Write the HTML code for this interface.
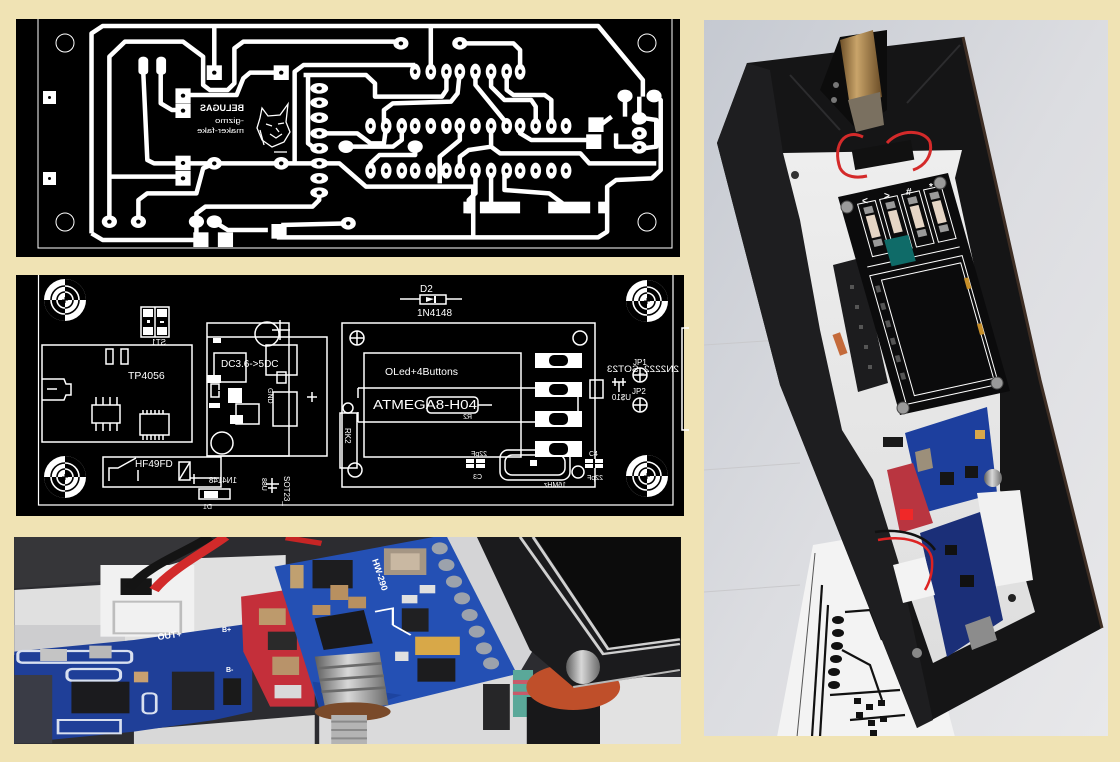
<!DOCTYPE html>
<html><head><meta charset="utf-8">
<style>
html,body{margin:0;padding:0;background:#f0e3b4;}
svg{display:block}
.t path{vector-effect:non-scaling-stroke}
.nb{vector-effect:non-scaling-stroke}
text{font-family:"Liberation Sans",sans-serif}
</style></head><body>
<svg width="1120" height="762" viewBox="0 0 1120 762" xmlns="http://www.w3.org/2000/svg">
<defs>
<g id="mh">
<circle r="21" fill="#fff"/>
<path d="M0,0 L21,0 A21,21 0 0 0 0,-21 Z" fill="#000"/>
<path d="M0,0 L-21,0 A21,21 0 0 0 0,21 Z" fill="#000"/>
<path d="M8,0 A8,8 0 0 0 0,-8 M14,0 A14,14 0 0 0 0,-14 M-8,0 A8,8 0 0 0 0,8 M-14,0 A14,14 0 0 0 0,14" stroke="#fff" stroke-width="1.6" fill="none"/>
<path d="M0,-8 A8,8 0 0 0 -8,0 M0,-14 A14,14 0 0 0 -14,0 M0,8 A8,8 0 0 0 8,0 M0,14 A14,14 0 0 0 14,0" stroke="#000" stroke-width="1.6" fill="none"/>
<path d="M-3,0H3M0,-3V3" stroke="#000" stroke-width="1"/>
</g>
<clipPath id="cb"><rect x="14" y="537" width="667" height="207"/></clipPath>
<clipPath id="cr"><rect x="704" y="20" width="404" height="716"/></clipPath>
<linearGradient id="bg" x1="0" y1="0" x2="1" y2="1">
<stop offset="0" stop-color="#c5c9d1"/><stop offset="0.5" stop-color="#dcdde1"/><stop offset="1" stop-color="#e8e8ea"/></linearGradient>
<linearGradient id="nut" x1="0" y1="0" x2="1" y2="0">
<stop offset="0" stop-color="#5e5e5e"/><stop offset="0.45" stop-color="#d8d8d8"/><stop offset="1" stop-color="#6a6a6a"/></linearGradient>
<linearGradient id="brass" x1="0" y1="0" x2="1" y2="0">
<stop offset="0" stop-color="#6e5028"/><stop offset="0.4" stop-color="#c9a46a"/><stop offset="1" stop-color="#6a4c26"/></linearGradient>
<linearGradient id="floor" x1="0" y1="0" x2="0" y2="1">
<stop offset="0" stop-color="#eeeeee"/><stop offset="1" stop-color="#dedede"/></linearGradient>
</defs>
<rect width="1120" height="762" fill="#f0e3b4"/>

<!-- ============ TOP PCB PANEL ============ -->
<rect x="16" y="19" width="664" height="238" fill="#000"/>
<path d="M38,19V248H672V19" stroke="#fff" stroke-width="1" fill="none"/>
<g fill="none" stroke="#fff" stroke-width="1">
<circle cx="65" cy="43" r="9"/><circle cx="647" cy="43" r="9"/>
<circle cx="65" cy="222" r="9"/><circle cx="647" cy="222" r="9"/>
</g>
<rect x="43" y="91" width="13" height="13" fill="#fff"/><circle cx="49.5" cy="97.5" r="1.5" fill="#000"/>
<rect x="43" y="172" width="13" height="13" fill="#fff"/><circle cx="49.5" cy="178.5" r="1.5" fill="#000"/>

<g class="t" transform="scale(0.44643,0.33333)">
<g fill="none" stroke="#fff" stroke-width="4.5" stroke-linejoin="round">
<path d="M205,700 L205,100 L230,78 L1340,78 L1440,240 L1440,290"/>
<path d="M480,78 L480,215"/>
<path d="M965,78 L965,210"/>
<path d="M245,660 L245,170 L280,125 L410,125 L455,170 L455,255 L470,270 L510,270 L525,250 L525,145 L545,125 L898,125"/>
<path d="M360,190 L360,310 L385,330 L410,330"/>
<path d="M320,190 L330,480 L345,490 L410,490"/>
<path d="M410,285 L530,285 L545,235 L560,218 L630,218"/>
<path d="M245,530 L410,530"/>
<path d="M410,490 L715,490"/>
<path d="M660,490 L660,215 L680,195 L930,195"/>
<path d="M690,230 L690,430 L705,445"/>
<path d="M715,400 L800,400 L830,430 L860,430 L865,380"/>
<path d="M680,225 L820,225 L840,250 L840,290 L990,290 L1000,270 L1000,215"/>
<path d="M860,375 L860,330 L880,310 L1010,305 L1025,280 L1030,215"/>
<path d="M775,440 L880,440 L900,420 L900,375"/>
<path d="M930,440 L930,465 L850,465 L830,490 L830,510"/>
<path d="M715,490 L760,490 L820,560 L1060,560 L1060,715"/>
<path d="M715,578 L715,600 L700,620 L460,620 L440,640 L440,700 L450,718"/>
<path d="M310,660 L310,600 L330,580 L440,580 L455,505 L480,490"/>
<path d="M480,665 L510,690 L600,690"/>
<path d="M630,675 L780,670"/>
<path d="M620,712 L1340,712 L1360,695 L1360,560 L1380,540 L1460,535 L1480,510 L1480,300 L1465,285"/>
<path d="M205,700 L230,720 L440,720"/>
<path d="M1030,130 L1150,130 L1165,150 L1165,210"/>
<path d="M1065,215 L1065,255 L1135,370"/>
<path d="M1100,215 L1100,260 L1130,300 L1190,300 L1200,320 L1200,370"/>
<path d="M1135,215 L1135,270 L1150,285 L1220,285 L1235,300 L1235,370"/>
<path d="M1165,375 L1165,400 L1190,420 L1320,420"/>
<path d="M1340,380 L1370,350"/>
<path d="M1100,375 L1100,440 L1050,450 L1030,470 L1030,510"/>
<path d="M1100,440 L1120,460 L1300,460 L1320,490 L1470,490"/>
<path d="M1030,375 L1030,420 L985,470 L985,550"/>
<path d="M1065,510 L1065,580 L1050,600 L1050,640"/>
<path d="M1100,510 L1100,610"/>
<path d="M1130,510 L1130,570 L1230,580 L1260,610"/>
<path d="M1380,400 L1380,440 L1430,440"/>
<path d="M1400,290 L1400,350"/>
<path d="M1432,290 L1432,355"/>
<path d="M1445,355 L1470,360 L1470,440 L1440,445"/>
</g>
<g fill="#fff">
<ellipse cx="930" cy="215" rx="12" ry="24"/><ellipse cx="965" cy="215" rx="12" ry="24"/><ellipse cx="1000" cy="215" rx="12" ry="24"/><ellipse cx="1030" cy="215" rx="12" ry="24"/><ellipse cx="1065" cy="215" rx="12" ry="24"/><ellipse cx="1100" cy="215" rx="12" ry="24"/><ellipse cx="1135" cy="215" rx="12" ry="24"/><ellipse cx="1165" cy="215" rx="12" ry="24"/>
<ellipse cx="830" cy="378" rx="12" ry="24"/><ellipse cx="865" cy="378" rx="12" ry="24"/><ellipse cx="900" cy="378" rx="12" ry="24"/><ellipse cx="930" cy="378" rx="12" ry="24"/><ellipse cx="965" cy="378" rx="12" ry="24"/><ellipse cx="1000" cy="378" rx="12" ry="24"/><ellipse cx="1030" cy="378" rx="12" ry="24"/><ellipse cx="1065" cy="378" rx="12" ry="24"/><ellipse cx="1100" cy="378" rx="12" ry="24"/><ellipse cx="1135" cy="378" rx="12" ry="24"/><ellipse cx="1165" cy="378" rx="12" ry="24"/><ellipse cx="1200" cy="378" rx="12" ry="24"/><ellipse cx="1235" cy="378" rx="12" ry="24"/><ellipse cx="1268" cy="378" rx="12" ry="24"/>
<ellipse cx="830" cy="512" rx="12" ry="24"/><ellipse cx="865" cy="512" rx="12" ry="24"/><ellipse cx="900" cy="512" rx="12" ry="24"/><ellipse cx="930" cy="512" rx="12" ry="24"/><ellipse cx="965" cy="512" rx="12" ry="24"/><ellipse cx="1000" cy="512" rx="12" ry="24"/><ellipse cx="1030" cy="512" rx="12" ry="24"/><ellipse cx="1065" cy="512" rx="12" ry="24"/><ellipse cx="1100" cy="512" rx="12" ry="24"/><ellipse cx="1135" cy="512" rx="12" ry="24"/><ellipse cx="1165" cy="512" rx="12" ry="24"/><ellipse cx="1200" cy="512" rx="12" ry="24"/><ellipse cx="1235" cy="512" rx="12" ry="24"/><ellipse cx="1268" cy="512" rx="12" ry="24"/>
<ellipse cx="715" cy="265" rx="20" ry="16"/><ellipse cx="715" cy="308" rx="20" ry="16"/><ellipse cx="715" cy="353" rx="20" ry="16"/><ellipse cx="715" cy="400" rx="20" ry="16"/><ellipse cx="715" cy="445" rx="20" ry="16"/><ellipse cx="715" cy="490" rx="20" ry="16"/><ellipse cx="715" cy="535" rx="20" ry="16"/><ellipse cx="715" cy="578" rx="20" ry="16"/>
<ellipse cx="898" cy="130" rx="17" ry="19"/><ellipse cx="1030" cy="130" rx="17" ry="19"/><ellipse cx="245" cy="665" rx="17" ry="19"/><ellipse cx="310" cy="665" rx="17" ry="19"/><ellipse cx="440" cy="665" rx="17" ry="19"/><ellipse cx="480" cy="665" rx="17" ry="19"/><ellipse cx="780" cy="670" rx="17" ry="19"/><ellipse cx="775" cy="440" rx="17" ry="19"/><ellipse cx="930" cy="440" rx="17" ry="19"/><ellipse cx="480" cy="490" rx="17" ry="19"/><ellipse cx="630" cy="490" rx="17" ry="19"/><ellipse cx="1400" cy="288" rx="17" ry="19"/><ellipse cx="1465" cy="288" rx="17" ry="19"/><ellipse cx="1432" cy="355" rx="17" ry="19"/><ellipse cx="1432" cy="400" rx="17" ry="19"/><ellipse cx="1432" cy="442" rx="17" ry="19"/>
<rect x="310" y="170" width="22" height="55" rx="11"/><rect x="350" y="170" width="22" height="55" rx="11"/>
<rect x="463" y="196" width="34" height="44"/><rect x="613" y="196" width="34" height="44"/><rect x="393" y="265" width="34" height="44"/><rect x="393" y="310" width="34" height="44"/><rect x="393" y="467" width="34" height="44"/><rect x="393" y="513" width="34" height="44"/><rect x="433" y="697" width="34" height="44"/><rect x="488" y="697" width="34" height="44"/><rect x="608" y="672" width="34" height="44"/><rect x="1318" y="352" width="34" height="44"/><rect x="1313" y="403" width="34" height="44"/>
<rect x="1038" y="605" width="22" height="35"/><rect x="1075" y="605" width="90" height="35"/><rect x="1228" y="605" width="94" height="35"/><rect x="1340" y="605" width="16" height="35"/>
</g>
<g fill="#000">
<ellipse cx="930" cy="215" rx="4" ry="7"/><ellipse cx="965" cy="215" rx="4" ry="7"/><ellipse cx="1000" cy="215" rx="4" ry="7"/><ellipse cx="1030" cy="215" rx="4" ry="7"/><ellipse cx="1065" cy="215" rx="4" ry="7"/><ellipse cx="1100" cy="215" rx="4" ry="7"/><ellipse cx="1135" cy="215" rx="4" ry="7"/><ellipse cx="1165" cy="215" rx="4" ry="7"/>
<ellipse cx="830" cy="378" rx="4" ry="7"/><ellipse cx="865" cy="378" rx="4" ry="7"/><ellipse cx="900" cy="378" rx="4" ry="7"/><ellipse cx="930" cy="378" rx="4" ry="7"/><ellipse cx="965" cy="378" rx="4" ry="7"/><ellipse cx="1000" cy="378" rx="4" ry="7"/><ellipse cx="1030" cy="378" rx="4" ry="7"/><ellipse cx="1065" cy="378" rx="4" ry="7"/><ellipse cx="1100" cy="378" rx="4" ry="7"/><ellipse cx="1135" cy="378" rx="4" ry="7"/><ellipse cx="1165" cy="378" rx="4" ry="7"/><ellipse cx="1200" cy="378" rx="4" ry="7"/><ellipse cx="1235" cy="378" rx="4" ry="7"/><ellipse cx="1268" cy="378" rx="4" ry="7"/>
<ellipse cx="830" cy="512" rx="4" ry="7"/><ellipse cx="865" cy="512" rx="4" ry="7"/><ellipse cx="900" cy="512" rx="4" ry="7"/><ellipse cx="930" cy="512" rx="4" ry="7"/><ellipse cx="965" cy="512" rx="4" ry="7"/><ellipse cx="1000" cy="512" rx="4" ry="7"/><ellipse cx="1030" cy="512" rx="4" ry="7"/><ellipse cx="1065" cy="512" rx="4" ry="7"/><ellipse cx="1100" cy="512" rx="4" ry="7"/><ellipse cx="1135" cy="512" rx="4" ry="7"/><ellipse cx="1165" cy="512" rx="4" ry="7"/><ellipse cx="1200" cy="512" rx="4" ry="7"/><ellipse cx="1235" cy="512" rx="4" ry="7"/><ellipse cx="1268" cy="512" rx="4" ry="7"/>
<ellipse cx="715" cy="265" rx="6" ry="6"/><ellipse cx="715" cy="308" rx="6" ry="6"/><ellipse cx="715" cy="353" rx="6" ry="6"/><ellipse cx="715" cy="400" rx="6" ry="6"/><ellipse cx="715" cy="445" rx="6" ry="6"/><ellipse cx="715" cy="490" rx="6" ry="6"/><ellipse cx="715" cy="535" rx="6" ry="6"/><ellipse cx="715" cy="578" rx="6" ry="6"/>
<ellipse cx="898" cy="130" rx="5" ry="6"/><ellipse cx="1030" cy="130" rx="5" ry="6"/><ellipse cx="245" cy="665" rx="5" ry="6"/><ellipse cx="310" cy="665" rx="5" ry="6"/><ellipse cx="780" cy="670" rx="5" ry="6"/><ellipse cx="480" cy="490" rx="5" ry="6"/><ellipse cx="630" cy="490" rx="5" ry="6"/><ellipse cx="1432" cy="400" rx="5" ry="6"/><ellipse cx="1432" cy="442" rx="5" ry="6"/>
<ellipse cx="480" cy="218" rx="5" ry="6"/><ellipse cx="630" cy="218" rx="5" ry="6"/><ellipse cx="410" cy="287" rx="5" ry="6"/><ellipse cx="410" cy="332" rx="5" ry="6"/><ellipse cx="410" cy="489" rx="5" ry="6"/><ellipse cx="410" cy="535" rx="5" ry="6"/>
</g>
</g>
<g fill="#fff">
<text transform="translate(244,111) scale(-1,1)" font-size="9" font-weight="bold" textLength="44" lengthAdjust="spacingAndGlyphs">BELUGAS</text>
<text transform="translate(244,123) scale(-1,1)" font-size="7" textLength="29" lengthAdjust="spacingAndGlyphs">-gizmo</text>
<text transform="translate(244,133) scale(-1,1)" font-size="7" textLength="47" lengthAdjust="spacingAndGlyphs">maker-fake</text>
</g>
<g stroke="#fff" stroke-width="1.3" fill="none">
<path d="M262,108 L268,116 L280,115 L288,104 L286,122 L290,132 L284,142 L272,147 L262,140 L257,128 L260,118 Z"/>
<path d="M266,124 L272,126 M278,124 L284,123 M270,134 L276,138 L282,134 M260,130 L264,145 M276,128 L279,132"/>
<path d="M274,152 H287"/>
</g>

<!-- ============ MIDDLE SILKSCREEN PANEL ============ -->
<rect x="16" y="275" width="668" height="241" fill="#000"/>
<path d="M38.5,275V505H673V275" stroke="#fff" stroke-width="1.2" fill="none"/>
<path d="M689,328H682V430H689" stroke="#fff" stroke-width="1.5" fill="none"/>
<use href="#mh" x="65" y="300"/><use href="#mh" x="647" y="301"/>
<use href="#mh" x="65" y="477"/><use href="#mh" x="647" y="476"/>
<g fill="none" stroke="#fff" stroke-width="1.5">
<rect x="141" y="307" width="28" height="30"/><line x1="155" y1="307" x2="155" y2="337"/>
<rect x="42" y="345" width="150" height="97"/>
<rect x="106" y="349" width="7" height="15"/><rect x="121" y="349" width="7" height="15"/>
<path d="M42,379H64L66,384H71V395H66L64,400H42M47,389H57"/>
<rect x="92" y="405" width="28" height="18"/>
<path d="M96,397V405M103,397V405M110,397V405M117,397V405M96,423V431M103,423V431M110,423V431M117,423V431"/>
<rect x="140" y="414" width="29" height="21"/>
<path d="M143,410V414M147,410V414M151,410V414M155,410V414M159,410V414M163,410V414M143,435V440M147,435V440M151,435V440M155,435V440M159,435V440M163,435V440"/>
<rect x="207" y="323" width="82" height="133"/>
<path d="M207,337H327V456H207"/>
<circle cx="267" cy="334" r="12"/><path d="M280,320V340M272,330H290"/>
<circle cx="222" cy="443" r="11"/>
<rect x="214" y="353" width="32" height="29"/>
<rect x="211" y="384" width="8" height="13"/>
<rect x="236" y="404" width="23" height="20"/>
<rect x="266" y="345" width="31" height="30"/>
<rect x="277" y="372" width="9" height="11"/>
<rect x="273" y="392" width="24" height="34"/>
<path d="M307,397H317M312,392V402"/>
<rect x="103" y="457" width="118" height="30"/>
<path d="M109,481V468H118L136,458M138,481V470"/>
<rect x="179" y="462" width="11" height="18"/><path d="M179,480L190,462M190,478H219M194,474V484"/>
<rect x="199" y="489" width="31" height="10"/>
<path d="M266,484H279M272,478V493M268,488H277"/>
<path d="M400,299H420M446,299H462"/>
<rect x="420" y="295" width="26" height="9"/>
<rect x="342" y="323" width="253" height="164"/>
<rect x="364" y="353" width="157" height="104"/>
<circle cx="357" cy="338" r="7"/><path d="M350,338H364M357,331V345"/>
<circle cx="580" cy="338" r="7"/>
<path d="M358,388H535M358,422H535M358,388V398M358,412V422M578,390V416"/>
<rect x="340" y="413" width="17" height="55"/>
<circle cx="355" cy="470" r="7"/><circle cx="348" cy="408" r="5"/>
<rect x="427" y="397" width="51" height="16" rx="4"/>
<path d="M478,405H492"/>
<rect x="500" y="450" width="70" height="30" rx="8"/>
<rect x="505" y="455" width="60" height="20" rx="7"/>
<circle cx="578" cy="472" r="6"/>
<circle cx="640" cy="375" r="7"/><path d="M633,375H647M640,368V382"/>
<circle cx="640" cy="405" r="7"/><path d="M633,405H647M640,398V412"/>
<rect x="590" y="380" width="13" height="18"/>
<path d="M612,382H626M615,378V386M623,378V386M619,382V392"/>
</g>
<g fill="#fff">
<rect x="143" y="309" width="10" height="8"/><rect x="143" y="327" width="10" height="8"/>
<rect x="157" y="309" width="10" height="8"/><rect x="157" y="327" width="10" height="8"/>
<rect x="147" y="320" width="3" height="3"/><rect x="160" y="321" width="4" height="2"/>
<rect x="213" y="338" width="8" height="5"/><rect x="207" y="375" width="14" height="8"/><rect x="209" y="403" width="11" height="5"/>
<rect x="230" y="415" width="13" height="9"/>
<rect x="228" y="388" width="14" height="15"/>
<rect x="204" y="491" width="14" height="7"/>
<path d="M426,297L434,299L426,302Z"/><rect x="434" y="296" width="2" height="7"/>
<rect x="535" y="353" width="47" height="15"/><rect x="535" y="382" width="47" height="15"/>
<rect x="535" y="411" width="47" height="16"/><rect x="535" y="441" width="47" height="16"/>
<rect x="466" y="459" width="19" height="9"/><rect x="585" y="459" width="18" height="9"/>
<rect x="530" y="460" width="7" height="6"/>
</g>
<g fill="#000">
<rect x="549" y="355" width="19" height="11" rx="5"/><rect x="549" y="384" width="19" height="11" rx="5"/>
<rect x="549" y="413" width="19" height="12" rx="5"/><rect x="549" y="443" width="19" height="12" rx="5"/>
<rect x="474" y="459" width="2" height="9"/><rect x="466" y="463" width="19" height="1"/>
<rect x="593" y="459" width="2" height="9"/><rect x="585" y="463" width="18" height="1"/>
<rect x="215" y="390" width="10" height="1"/>
</g>
<g fill="#fff">
<text x="128" y="379" font-size="10.5">TP4056</text>
<text x="221" y="367" font-size="10">DC3.6-&gt;5DC</text>
<text x="135" y="467" font-size="10">HF49FD</text>
<text x="420" y="292" font-size="10">D2</text>
<text x="417" y="316" font-size="10">1N4148</text>
<text x="385" y="375" font-size="10.5" textLength="73" lengthAdjust="spacingAndGlyphs">OLed+4Buttons</text>
<text x="373" y="409" font-size="13" textLength="104" lengthAdjust="spacingAndGlyphs">ATMEGA8-H04</text>
<text x="633" y="365" font-size="8">JP1</text>
<text x="632" y="394" font-size="8">JP2</text>
<text x="589" y="456" font-size="7">C4</text>
<text transform="translate(679,372) scale(-1,1)" font-size="9" textLength="72" lengthAdjust="spacingAndGlyphs">2N2222_SOT23</text>
<text transform="translate(631,400) scale(-1,1)" font-size="8">U$10</text>
<text transform="translate(166,345) scale(-1,1)" font-size="8">ST1</text>
<text transform="translate(237,483) scale(-1,1)" font-size="8">1N4148</text>
<text transform="translate(212,509) scale(-1,1)" font-size="7">D1</text>
<text transform="translate(487,456) scale(-1,1)" font-size="7">22pF</text>
<text transform="translate(482,479) scale(-1,1)" font-size="7">C3</text>
<text transform="translate(603,480) scale(-1,1)" font-size="7">22pF</text>
<text transform="translate(566,487) scale(-1,1)" font-size="7">16MHz</text>
<text transform="translate(472,419) scale(-1,1)" font-size="7">R2</text>
<text transform="translate(262,478) rotate(90)" font-size="7">88U</text>
<text transform="translate(284,476) rotate(90)" font-size="8">SOT23_</text>
<text transform="translate(345,428) rotate(90)" font-size="8">RK2</text>
<text transform="translate(268,388) rotate(90)" font-size="7">GND</text>
</g>

<!-- ============ BOTTOM PHOTO ============ -->
<g clip-path="url(#cb)">
<g transform="translate(0,525) scale(0.44643,0.33333)">
<rect x="0" y="0" width="1600" height="720" fill="#2c2c30"/>
<polygon points="32,35 450,35 380,110 220,170 32,190" fill="#363639"/>
<polygon points="32,195 225,180 430,100 640,90 640,330 32,390" fill="#e0e0e0"/>
<polygon points="32,300 280,300 280,360 32,390" fill="#cdcdcf"/>
<rect x="225" y="120" width="210" height="215" fill="#f1f1f1"/>
<rect x="255" y="230" width="150" height="95" fill="none" stroke="#bdbdbd" stroke-width="6"/>
<rect x="270" y="160" width="70" height="50" fill="#151515"/>
<path d="M290,190 C330,120 420,80 470,35" stroke="#141414" stroke-width="24" fill="none"/>
<path d="M345,195 C385,130 460,80 505,35" stroke="#d22a2a" stroke-width="24" fill="none"/>
<path d="M640,38 L720,55" stroke="#c62525" stroke-width="16"/>
<!-- floor wedge bottom -->
<polygon points="300,615 705,570 705,660 300,660" fill="#d8d8d8"/>
<!-- left blue board -->
<polygon points="32,380 300,345 553,297 565,330 565,560 480,585 300,620 32,655" fill="#1f3f98"/>
<rect x="40" y="378" width="255" height="35" rx="10" fill="none" stroke="#d8e0f0" stroke-width="7"/>
<rect x="90" y="372" width="60" height="36" fill="#c4c4c4"/><rect x="200" y="362" width="50" height="38" fill="#b8b8b8"/>
<rect x="150" y="432" width="120" height="35" rx="12" fill="none" stroke="#d8e0f0" stroke-width="7"/>
<rect x="160" y="470" width="130" height="95" fill="#1b1b1e"/>
<rect x="385" y="440" width="95" height="115" fill="#232326"/>
<rect x="300" y="440" width="32" height="32" fill="#c9a070"/>
<rect x="320" y="505" width="30" height="60" rx="10" fill="none" stroke="#d8e0f0" stroke-width="6"/>
<rect x="32" y="450" width="85" height="205" fill="#3a3c46"/>
<rect x="130" y="585" width="140" height="40" fill="none" stroke="#d8e0f0" stroke-width="6"/>
<rect x="500" y="460" width="40" height="80" fill="#1a1a1a"/>
<!-- red board -->
<polygon points="540,215 640,195 705,370 705,545 605,545 545,380" fill="#c42f3a"/>
<rect x="580" y="250" width="60" height="50" fill="#bd9a6c"/>
<rect x="600" y="320" width="65" height="55" fill="#2a2a2a"/>
<rect x="610" y="395" width="60" height="55" fill="#b8936a"/>
<rect x="615" y="480" width="60" height="40" fill="#d9d9d9"/>
<!-- white band + lower floor right -->
<polygon points="985,35 1072,35 1192,380 1160,452" fill="#d4d4d6"/>
<polygon points="715,560 1158,447 1190,470 1190,660 715,660" fill="#dadadb"/>
<!-- HW-290 board -->
<polygon points="615,125 975,35 1001,35 1158,447 762,576 715,550" fill="#2450b4"/>
<polygon points="700,470 900,510 762,576 715,550" fill="#1d44a0"/>
<rect x="700" y="105" width="90" height="85" fill="#1d1d1f"/>
<polygon points="705,280 815,255 835,355 725,375" fill="#19191b"/>
<rect x="860" y="70" width="95" height="80" fill="#a59684"/><rect x="875" y="85" width="65" height="50" fill="#c9b8a2"/>
<rect x="930" y="335" width="100" height="55" fill="#d8a848"/>
<rect x="935" y="400" width="85" height="70" fill="#1c1c1e"/>
<rect x="900" y="250" width="60" height="70" fill="#202022"/>
<rect x="650" y="120" width="30" height="70" fill="#c0a070"/><rect x="740" y="180" width="40" height="45" fill="#b89060"/>
<rect x="780" y="215" width="40" height="35" fill="#b89060"/><rect x="700" y="240" width="40" height="30" fill="#b89060"/>
<rect x="885" y="380" width="30" height="28" fill="#e0e0e0"/><rect x="900" y="210" width="35" height="25" fill="#e0e0e0"/>
<rect x="940" y="180" width="35" height="25" fill="#e0e0e0"/>
<g fill="#9ca2ac"><circle cx="985" cy="70" r="18"/><circle cx="1000" cy="120" r="18"/><circle cx="1017" cy="170" r="18"/><circle cx="1035" cy="220" r="18"/><circle cx="1052" cy="270" r="18"/><circle cx="1068" cy="320" r="18"/><circle cx="1084" cy="370" r="18"/><circle cx="1100" cy="415" r="18"/></g>
<path d="M880,300 L880,250 L840,260 M880,300 L920,330" stroke="#fff" stroke-width="5" fill="none"/>
<rect x="1082" y="477" width="60" height="138" fill="#262628"/>
<rect x="1149" y="435" width="45" height="141" fill="#5aa899"/>
<rect x="1149" y="465" width="45" height="12" fill="#c85a6a"/><rect x="1149" y="500" width="45" height="10" fill="#c85a6a"/>
<!-- bolt -->
<polygon points="705,395 850,380 870,540 730,560" fill="url(#nut)"/>
<path d="M712,430 L855,415 M716,465 L860,452 M720,500 L864,488" stroke="#6a6a6a" stroke-width="8"/>
<ellipse cx="790" cy="560" rx="85" ry="28" fill="#7a4a2a"/>
<rect x="742" y="570" width="80" height="90" fill="#b4b4b4"/>
<path d="M742,590H822M742,615H822M742,640H822" stroke="#8a8a8a" stroke-width="6"/>
<!-- right side: floor, cylinder, washer, OLED -->
<rect x="1344" y="456" width="185" height="205" fill="#e2e2e2"/>
<rect x="1180" y="516" width="164" height="145" fill="#18181a"/>
<ellipse cx="1284" cy="486" rx="105" ry="69" fill="#bf4f2a"/>
<polygon points="1068,35 1525,35 1525,440 1284,486 1187,375" fill="#1b1b1d"/>
<polygon points="1200,35 1525,35 1525,340 1365,370" fill="#0c0c0c"/>
<path d="M1165,36 L1351,387 L1523,357 M1194,36 L1362,372 L1523,343" stroke="#d0d0d0" stroke-width="7" fill="none"/>
<path d="M1284,486 L1523,435" stroke="#b8b8b8" stroke-width="6"/>
<ellipse cx="1306" cy="426" rx="38" ry="51" fill="url(#nut)"/>
</g>
<g fill="#fff" font-weight="bold">
<text x="158" y="640" font-size="9" transform="rotate(-8 158 640)">OUT+</text>
<text x="222" y="632" font-size="7">B+</text>
<text x="226" y="672" font-size="7">B-</text>
<text x="372" y="560" font-size="9" transform="rotate(72 372 560)">HW-290</text>
</g>
</g>

<!-- ============ RIGHT PHOTO ============ -->
<g clip-path="url(#cr)">
<rect x="704" y="20" width="404" height="716" fill="url(#bg)"/>
<path d="M704,345 L780,340 M704,470 L800,463 M704,592 L800,585" stroke="#c9c9cc" stroke-width="1" fill="none"/>
<polygon points="813,545 900,530 955,737 777,737" fill="#f3f3f3"/>
<path d="M815,553 L797,737" stroke="#555" stroke-width="1"/>
<g stroke="#111" stroke-width="2.2" fill="none">
<path d="M822,585 L812,737"/><path d="M828,605 L820,737"/>
<path d="M845,612 L870,610 L882,640"/><path d="M842,650 L870,665 L882,700"/>
<path d="M830,695 L900,690"/><path d="M850,720 L905,715"/>
</g>
<g fill="#111">
<ellipse cx="838" cy="620" rx="6" ry="4"/><ellipse cx="838" cy="633" rx="6" ry="4"/><ellipse cx="837" cy="646" rx="6" ry="4"/><ellipse cx="836" cy="659" rx="6" ry="4"/><ellipse cx="834" cy="672" rx="6" ry="4"/><ellipse cx="834" cy="685" rx="6" ry="4"/>
<rect x="854" y="698" width="7" height="6"/><rect x="866" y="704" width="7" height="6"/><rect x="878" y="700" width="7" height="6"/><rect x="856" y="712" width="7" height="6"/><rect x="868" y="720" width="7" height="6"/><rect x="880" y="716" width="7" height="6"/><rect x="870" y="730" width="7" height="6"/>
</g>
<!-- box -->
<polygon points="747,63 963,37 1040,380 1102,628 917,728 780,385 717,143" fill="#151516"/>
<polygon points="747,63 717,143 780,385 917,728 933,720 900,567 873,480 842,430 820,330 800,220 783,153 770,70" fill="#1e1e20"/>
<path d="M963,37 L1040,380 L1102,628" stroke="#3e2e24" stroke-width="3" fill="none"/>
<path d="M907,103 L960,45 M790,75 L840,130" stroke="#2c2c2e" stroke-width="2"/>
<polygon points="783,153 962,150 955,178 1000,385 1000,490 1035,612 933,663 900,567 873,480 842,430 820,330 800,220" fill="url(#floor)"/>
<circle cx="795" cy="175" r="4" fill="#333"/>
<!-- laser module -->
<polygon points="820,90 840,37 887,30 887,110 857,130" fill="#0c0c0c"/>
<polygon points="840,40 873,30 882,97 850,107" fill="url(#brass)"/>
<polygon points="848,100 880,92 884,125 856,132" fill="#7a7060"/>
<circle cx="836" cy="85" r="3" fill="#777"/><circle cx="834" cy="100" r="3" fill="#777"/>
<rect x="853" y="145" width="60" height="20" fill="#111" transform="rotate(-10 883 155)"/>
<path d="M863,137 C845,128 832,145 840,168 C845,178 858,178 867,176" stroke="#d42a2a" stroke-width="3" fill="none"/>
<path d="M887,143 C900,128 925,130 930,142 C933,155 925,166 913,170" stroke="#d42a2a" stroke-width="3" fill="none"/>
<!-- header -->
<polygon points="833,265 860,258 888,383 858,392" fill="#1c1c1e"/>
<g fill="#555"><rect x="850" y="285" width="4" height="4"/><rect x="855" y="305" width="4" height="4"/><rect x="859" y="325" width="4" height="4"/><rect x="864" y="345" width="4" height="4"/><rect x="868" y="365" width="4" height="4"/></g>
<rect x="836" y="333" width="8" height="22" fill="#c46a3a" transform="rotate(-20 840 344)"/>
<!-- OLED board -->
<g transform="matrix(1.10,-0.24,0.62,2.18,838,197)">
<rect x="0" y="0" width="100" height="100" fill="#0b0b0c"/>
<g fill="#e5d5c5"><rect x="19" y="11" width="8" height="10"/><rect x="39" y="11" width="8" height="10"/><rect x="59" y="11" width="8" height="10"/><rect x="79" y="11" width="8" height="10"/></g>
<g fill="#9a9a9a"><rect x="19" y="7" width="8" height="3"/><rect x="39" y="7" width="8" height="3"/><rect x="59" y="7" width="8" height="3"/><rect x="79" y="7" width="8" height="3"/><rect x="19" y="22" width="8" height="3"/><rect x="59" y="22" width="8" height="3"/><rect x="79" y="22" width="8" height="3"/></g>
<g fill="none" stroke="#fff" stroke-width="1">
<rect x="15" y="5" width="16" height="24" class="nb"/><rect x="35" y="5" width="16" height="24" class="nb"/><rect x="55" y="5" width="16" height="24" class="nb"/><rect x="75" y="5" width="16" height="24" class="nb"/>
<rect x="8" y="37" width="84" height="59" class="nb"/><rect x="17" y="40" width="72" height="53" class="nb"/>
<path d="M8,33 H92" class="nb"/>
</g>
<rect x="29" y="23" width="22" height="12" fill="#0f6b68"/>
<g fill="#555"><rect x="10" y="42" width="4" height="3"/><rect x="10" y="50" width="4" height="3"/><rect x="10" y="58" width="4" height="3"/><rect x="10" y="66" width="4" height="3"/><rect x="10" y="74" width="4" height="3"/><rect x="10" y="82" width="4" height="3"/></g>
<rect x="88" y="47" width="4" height="5" fill="#c8902a"/><rect x="88" y="68" width="4" height="5" fill="#c8902a"/>
</g>
<g fill="#fff" font-size="10" font-weight="bold">
<text x="862" y="204">&lt;</text><text x="884" y="199">&gt;</text><text x="906" y="195">#</text><text x="929" y="190">*</text>
</g>
<g fill="#9a9a9a" stroke="#4a4a4a" stroke-width="1">
<circle cx="847" cy="207" r="6"/><circle cx="940" cy="183" r="6"/><circle cx="997" cy="383" r="6"/><circle cx="903" cy="408" r="6"/>
</g>
<!-- modules -->
<rect x="883" y="437" width="20" height="10" fill="#1a1a1a"/>
<polygon points="905,433 987,407 997,493 923,513" fill="#1d3f9e"/>
<polygon points="915,452 930,448 933,468 918,472" fill="#9c8f7a"/>
<rect x="975" y="430" width="10" height="9" fill="#d9a84a"/>
<rect x="940" y="472" width="14" height="13" fill="#151515"/><rect x="965" y="466" width="13" height="12" fill="#151515"/>
<circle cx="993" cy="478" r="9" fill="url(#nut)"/>
<polygon points="887,470 913,463 933,523 900,533" fill="#b93540"/>
<rect x="900" y="509" width="13" height="11" fill="#f02828"/>
<polygon points="977,493 1020,490 1033,580 993,587" fill="#f1f1f1"/>
<polygon points="920,533 980,512 1003,620 947,657" fill="#1b2f78"/>
<rect x="945" y="545" width="12" height="10" fill="#111"/><rect x="960" y="575" width="14" height="12" fill="#111"/>
<polygon points="965,625 990,616 997,640 972,650" fill="#8c8c8c"/>
<polygon points="893,565 925,557 935,595 903,603" fill="#f3f3f3"/>
<path d="M875,532 C900,528 925,535 935,550" stroke="#111" stroke-width="2.5" fill="none"/>
<path d="M878,540 C900,535 930,540 932,560 C933,575 928,585 925,590" stroke="#d22" stroke-width="2.5" fill="none"/>
<circle cx="917" cy="653" r="5" fill="#888"/>
<circle cx="1012" cy="598" r="4" fill="#222"/>
</g>
</svg>
</body></html>
